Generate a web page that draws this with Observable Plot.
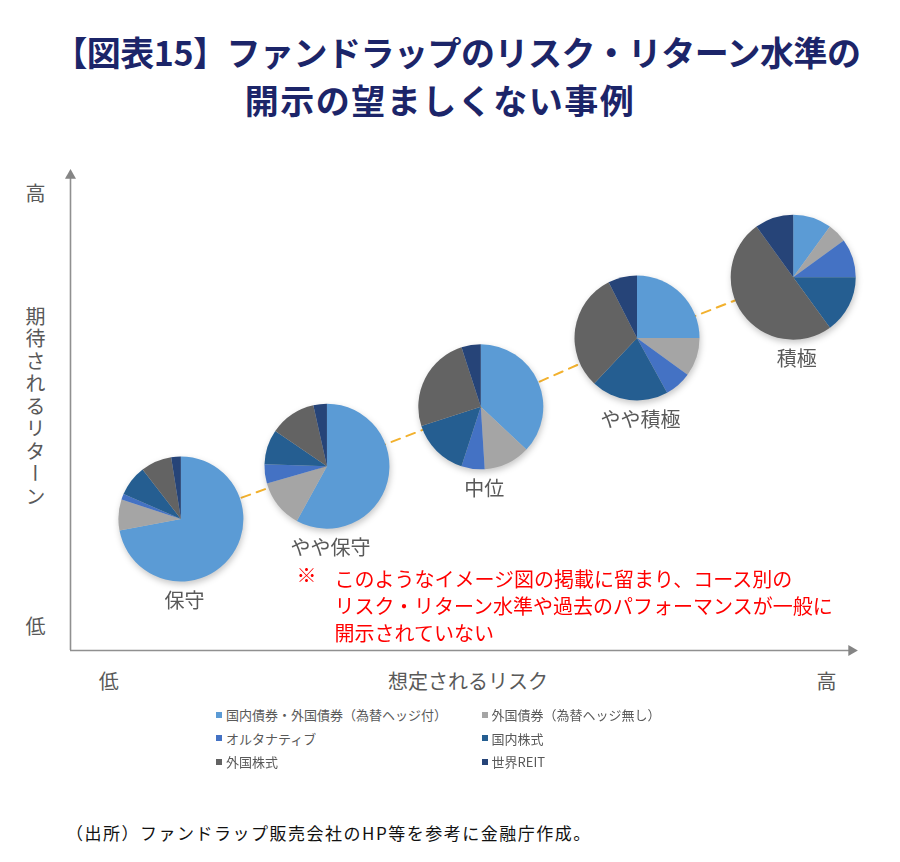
<!DOCTYPE html>
<html>
<head>
<meta charset="utf-8">
<script src="https://cdn.jsdelivr.net/npm/d3@7"></script>
<script src="https://cdn.jsdelivr.net/npm/@observablehq/plot@0.6"></script>
<style>
  body { margin: 0; background: #fff; font-family: "Noto Sans CJK JP", sans-serif; }
  #wrap { position: relative; width: 900px; height: 862px; overflow: hidden; background: #fff; }
  .title { position: absolute; left: 0; text-align: center; font-weight: 700; font-size: 34px; color: #1c2569; white-space: nowrap; line-height: 1; }
  #t1 { top: 35px; width: 914px; letter-spacing: -0.5px; }
  #t2 { top: 83px; width: 880px; letter-spacing: 1.5px; }
  #chart { position: absolute; left: 0; top: 0; }
  #legend { position: absolute; left: 216px; top: 703px; width: 518px; }
  .lg-swatches { font-family: "Noto Sans CJK JP", sans-serif; font-size: 13px; color: #595959; margin: 0; }
  .lg-swatch { height: 23.5px; padding-bottom: 0 !important; }
  .lg-swatch svg { margin-right: 4px !important; }
  #caption { position: absolute; left: 66px; top: 824px; font-size: 17px; line-height: 1; letter-spacing: 1.5px; color: #111; white-space: nowrap; }
  .ylab text { writing-mode: vertical-rl; text-orientation: upright; letter-spacing: 2.5px; }
  .pies { filter: drop-shadow(1px 3px 3px rgba(0,0,0,0.22)); }
</style>
</head>
<body>
<div id="wrap">
  <div class="title" id="t1">【図表15】ファンドラップのリスク・リターン水準の</div>
  <div class="title" id="t2">開示の望ましくない事例</div>
  <div id="chart"></div>
  <div id="legend"></div>
  <div id="caption">（出所）ファンドラップ販売会社のHP等を参考に金融庁作成。</div>
</div>
<script>
// ---- data ----
const categories = ["国内債券・外国債券（為替ヘッジ付）", "外国債券（為替ヘッジ無し）", "オルタナティブ", "国内株式", "外国株式", "世界REIT"];
const colors = ["#5b9bd5", "#a5a5a5", "#4472c4", "#255e91", "#636363", "#264478"];
const pieNames = ["保守", "やや保守", "中位", "やや積極", "積極"];
const risk = [1.42, 3.29, 5.26, 7.26, 9.26];
const expectedReturn = [2.76, 3.87, 5.12, 6.57, 7.85];
// allocation (%) per category, one value per pie
const domesticForeignBondsHedged = [72, 58, 37, 25, 10];
const foreignBondsUnhedged = [8, 12.5, 12, 10, 5];
const alternatives = [1.5, 5, 6, 7, 10];
const domesticEquity = [8, 9, 15, 20, 15];
const foreignEquity = [8, 12, 25, 30.5, 50];
const globalREIT = [2.5, 3.5, 5, 7.5, 10];
const xTicks = [0.49, 9.68];
const xTickLabels = ["低", "高"];
const yTicks = [0.48, 9.6];
const yTickLabels = ["低", "高"];
const xTitle = "想定されるリスク";
const yTitle = "期待されるリターン";
const noteMark = "※";
const noteText = "このようなイメージ図の掲載に留まり、コース別の\nリスク・リターン水準や過去のパフォーマンスが一般に\n開示されていない";

// ---- build tables ----
const series = [domesticForeignBondsHedged, foreignBondsUnhedged, alternatives, domesticEquity, foreignEquity, globalREIT];
const pies = pieNames.map((name, p) => ({name, risk: risk[p], ret: expectedReturn[p]}));
const slices = [];
pies.forEach((pie, p) => {
  const arcs = d3.pie().sort(null).value(d => d)(series.map(s => s[p]));
  arcs.forEach((a, k) => slices.push({pie: pie.name, risk: pie.risk, ret: pie.ret, category: categories[k], a0: a.startAngle, a1: a.endAngle}));
});
const legendOrder = [0, 2, 4, 1, 3, 5];
const colorDomain = legendOrder.map(i => categories[i]);
const colorRange = legendOrder.map(i => colors[i]);

const R = 62.5;
const arcGen = d3.arc().innerRadius(0).outerRadius(R);
const gray = "#595959";
const axisGray = "#909090";

const chart = Plot.plot({
  width: 900,
  height: 700,
  marginLeft: 70,
  marginRight: 49,
  marginTop: 175,
  marginBottom: 50,
  x: {domain: [0, 10]},
  y: {domain: [0, 10]},
  color: {type: "ordinal", domain: colorDomain, range: colorRange},
  style: {fontFamily: "'Noto Sans CJK JP', sans-serif", background: "transparent", overflow: "visible"},
  marks: [
    Plot.ruleX([0], {stroke: axisGray, strokeWidth: 1.6}),
    Plot.ruleY([0], {stroke: axisGray, strokeWidth: 1.6}),
    Plot.dot([0], {frameAnchor: "top-left", symbol: "triangle", r: 4.1, fill: "#858585", stroke: "none"}),
    Plot.dot([0], {frameAnchor: "bottom-right", symbol: "triangle", r: 4.1, rotate: 90, fill: "#858585", stroke: "none"}),
    Plot.axisX(xTicks, {tickFormat: d => xTickLabels[xTicks.indexOf(d)], tickSize: 0, tickPadding: 24, fontSize: 20, fill: gray, label: null}),
    Plot.axisY(yTicks, {tickFormat: d => yTickLabels[yTicks.indexOf(d)], tickSize: 0, tickPadding: 25, fontSize: 20, fill: gray, label: null}),
    Plot.text([xTitle], {text: d => d, frameAnchor: "bottom", dx: 7, dy: 38, fontSize: 20, fill: gray}),
    Plot.text([yTitle], {text: d => d, frameAnchor: "left", dx: -35, dy: -12, textAnchor: "middle", fontSize: 20, fill: gray, className: "ylab"}),
    Plot.line(pies, {x: "risk", y: "ret", stroke: "#f2b12e", strokeWidth: 2, strokeDasharray: "9,7"}),
    Plot.dot(slices, {
      x: "risk", y: "ret", fill: "category",
      render(index, scales, values) {
        const g = d3.create("svg:g").attr("class", "pies");
        for (const i of index) {
          g.append("path")
            .attr("transform", `translate(${values.x[i]},${values.y[i]})`)
            .attr("d", arcGen({startAngle: slices[i].a0, endAngle: slices[i].a1}))
            .attr("fill", values.fill[i]);
        }
        return g.node();
      }
    }),
    Plot.text(pies, {x: "risk", y: "ret", text: "name", dy: 82, dx: 3, fontSize: 20, fill: gray}),
    Plot.text([noteMark], {text: d => d, frameAnchor: "top-left", dx: 226, dy: 393, fontSize: 20, fill: "#ff0000"}),
    Plot.text([noteText], {text: d => d, frameAnchor: "top-left", dx: 264, dy: 393, lineHeight: 1.33, fontSize: 20, fill: "#ff0000"})
  ]
});
document.getElementById("chart").appendChild(chart);

const legend = Plot.legend({
  color: {type: "ordinal", domain: colorDomain, range: colorRange},
  columns: 2,
  swatchSize: 6,
  className: "lg"
});
document.getElementById("legend").appendChild(legend);
</script>
</body>
</html>
